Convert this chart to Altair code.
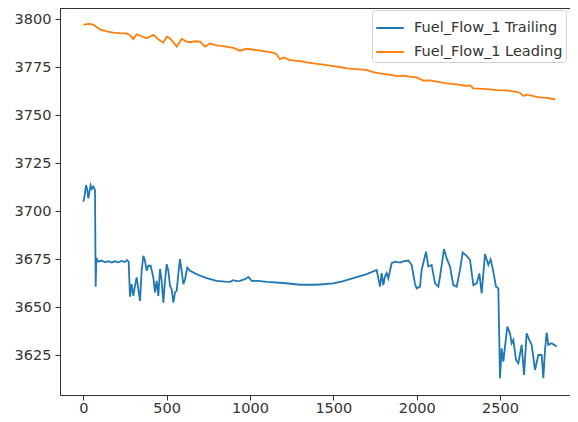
import altair as alt
import pandas as pd

series_names = ["Fuel_Flow_1 Trailing", "Fuel_Flow_1 Leading"]

leading_x = [0, 20, 40, 60, 80, 100, 140, 180, 220, 260, 280, 300, 320, 350, 380, 400, 420, 450,
             480, 500, 520, 540, 560, 590, 620, 640, 670, 700, 730, 760, 800, 850, 900, 940, 980,
             1040, 1100, 1140, 1160, 1180, 1200, 1240, 1300, 1340, 1380, 1440, 1500, 1540, 1580,
             1620, 1660, 1700, 1740, 1780, 1820, 1860, 1880, 1920, 1960, 2000, 2040, 2080, 2120,
             2180, 2240, 2300, 2320, 2340, 2400, 2440, 2480, 2540, 2600, 2620, 2640, 2660, 2700,
             2740, 2780, 2830]
leading_y = [3796.9, 3797.3, 3797.4, 3797.0, 3795.8, 3794.6, 3793.5, 3792.9, 3792.6, 3792.5,
             3791.5, 3789.6, 3792.0, 3791.0, 3790.0, 3790.8, 3791.7, 3789.5, 3787.7, 3790.8,
             3789.8, 3788.0, 3785.6, 3789.6, 3788.2, 3787.9, 3788.4, 3788.2, 3785.6, 3787.3,
             3786.3, 3785.8, 3785.0, 3783.5, 3784.5, 3783.8, 3783.0, 3782.5, 3781.6, 3779.0,
             3780.0, 3778.6, 3778.1, 3777.4, 3776.9, 3776.2, 3775.5, 3775.0, 3774.3, 3774.0,
             3773.8, 3773.4, 3772.3, 3771.7, 3771.2, 3770.6, 3770.3, 3770.5, 3770.0, 3769.6,
             3767.9, 3768.0, 3767.4, 3766.5, 3766.0, 3765.1, 3765.5, 3763.9, 3763.6, 3763.3,
             3763.0, 3762.8, 3762.1, 3761.5, 3759.9, 3760.6, 3759.8, 3759.2, 3758.9, 3758.2]

trailing_x = [0, 8, 16, 24, 30, 37, 44, 52, 60, 70, 74, 78, 90, 110, 130, 150, 170, 190, 210,
              230, 250, 262, 272, 280, 290, 300, 310, 320, 330, 340, 350, 360, 370, 380, 390,
              404, 420, 430, 440, 450, 460, 470, 480, 490, 500, 510, 520, 530, 540, 550, 560,
              570, 580, 590, 600, 610, 624, 640, 670, 700, 750, 800, 850, 880, 900, 920, 940,
              970, 990, 1010, 1050, 1100, 1200, 1300, 1400, 1500, 1560, 1620, 1700, 1760, 1780,
              1790, 1800, 1810, 1820, 1830, 1850, 1870, 1900, 1920, 1950, 1970, 1990, 2000,
              2020, 2030, 2056, 2070, 2090, 2110, 2130, 2140, 2164, 2180, 2200, 2220, 2240,
              2260, 2276, 2300, 2320, 2340, 2360, 2376, 2390, 2410, 2430, 2444, 2460, 2476,
              2490, 2496, 2500, 2510, 2520, 2530, 2544, 2560, 2570, 2580, 2596, 2610, 2630,
              2644, 2660, 2676, 2690, 2710, 2730, 2750, 2760, 2770, 2780, 2790, 2810, 2840]
trailing_y = [3704.8, 3708.0, 3713.5, 3711.0, 3706.6, 3710.0, 3713.5, 3711.5, 3712.7, 3711.0,
              3660.6, 3675.4, 3673.6, 3674.2, 3673.3, 3673.9, 3673.2, 3673.8, 3673.3, 3674.0,
              3673.4, 3674.5, 3673.5, 3655.4, 3661.9, 3655.8, 3661.0, 3665.4, 3659.3, 3653.2,
              3668.9, 3676.7, 3674.1, 3668.9, 3671.5, 3671.5, 3665.4, 3657.6, 3663.6, 3655.8,
              3669.8, 3663.6, 3652.3, 3663.6, 3672.3, 3668.9, 3661.0, 3659.3, 3652.3, 3657.6,
              3658.4, 3667.1, 3675.0, 3668.9, 3661.9, 3664.5, 3670.6, 3668.9, 3667.5, 3666.3,
              3664.8, 3663.6, 3663.2, 3663.1, 3664.0, 3663.5, 3663.6, 3664.5, 3665.7, 3663.6,
              3663.6, 3663.1, 3662.5, 3661.6, 3661.6, 3662.3, 3663.5, 3665.0, 3667.1, 3669.3,
              3660.6, 3667.7, 3661.4, 3666.0, 3667.7, 3665.0, 3672.8, 3673.6, 3673.1, 3673.8,
              3674.2, 3671.9, 3662.0, 3659.7, 3660.6, 3669.3, 3678.8, 3671.1, 3671.9, 3662.3,
              3660.6, 3665.8, 3680.2, 3675.3, 3671.1, 3661.4, 3660.6, 3669.3, 3678.4, 3676.6,
              3674.6, 3661.4, 3662.3, 3667.5, 3657.1, 3677.6, 3671.9, 3674.8, 3668.4, 3660.6,
              3659.7, 3631.1, 3612.9, 3628.5, 3621.5, 3629.4, 3639.8, 3636.3, 3631.1, 3632.9,
              3622.4, 3620.7, 3630.3, 3614.6, 3636.3, 3632.9, 3630.3, 3617.2, 3625.0, 3625.0,
              3612.9, 3627.6, 3636.7, 3630.3, 3631.1, 3629.4]

x_ticks = [0, 500, 1000, 1500, 2000, 2500]
y_ticks = [3625, 3650, 3675, 3700, 3725, 3750, 3775, 3800]
colors = ["#1f77b4", "#ff7f0e"]

df = pd.concat([
    pd.DataFrame({"x": trailing_x, "y": trailing_y, "series": series_names[0], "order": range(len(trailing_x))}),
    pd.DataFrame({"x": leading_x, "y": leading_y, "series": series_names[1], "order": range(len(leading_x))}),
])

font = "DejaVu Sans"
W, H = 510, 387

lines = alt.Chart(df).mark_line(strokeWidth=1.8).encode(
    x=alt.X("x:Q", title=None,
            scale=alt.Scale(domain=[-140, 2920], nice=False, zero=False),
            axis=alt.Axis(values=x_ticks, format="d", grid=False, tickSize=5,
                          labelPadding=1, labelFontSize=14.5, labelColor="#333",
                          tickColor="#333", domainColor="#333", labelFont=font)),
    y=alt.Y("y:Q", title=None,
            scale=alt.Scale(domain=[3604.17, 3805.73], nice=False, zero=False),
            axis=alt.Axis(values=y_ticks, format="d", grid=False, tickSize=5,
                          labelPadding=4, labelFontSize=14.5, labelColor="#333",
                          tickColor="#333", domainColor="#333", labelFont=font)),
    color=alt.Color("series:N", sort=series_names,
                    scale=alt.Scale(domain=series_names, range=colors),
                    legend=alt.Legend(title=None, orient="none", legendX=312, legendY=2,
                                      symbolType="stroke", symbolSize=760, symbolStrokeWidth=2,
                                      labelFontSize=14.5, labelFont=font, labelColor="#333",
                                      labelOffset=9, rowPadding=2, padding=3,
                                      strokeColor="#d0d0d0", fillColor="white",
                                      cornerRadius=3)),
    detail="series:N",
    order="order:Q",
)

top_border = alt.Chart(df).mark_rule(color="#333", strokeWidth=1).encode(
    x=alt.value(0), x2=alt.value(W), y=alt.value(0)
)

chart = alt.layer(lines, top_border).properties(
    width=W, height=H,
    autosize=alt.AutoSizeParams(type="none"),
    padding={"left": 52, "top": 0, "right": 0, "bottom": 19},
).configure_view(stroke=None)

chart.save("out.html", embed_options={"renderer": "svg", "actions": False})
